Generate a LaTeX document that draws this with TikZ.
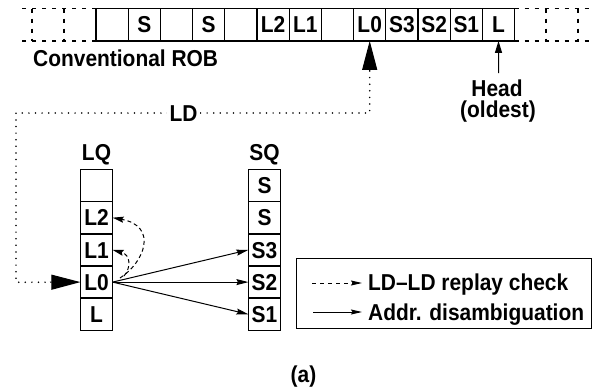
\documentclass[tikz,border=0pt]{standalone}
\usepackage{fontspec}
\newfontfamily\lbl{Liberation Sans}[FakeStretch=0.91]
\usetikzlibrary{arrows.meta}
\begin{document}
\begin{tikzpicture}[x=1pt,y=-1pt,
  every node/.style={font=\lbl\bfseries\fontsize{23}{23}\selectfont},
  cell/.style={draw, line width=1.3pt, minimum width=32.2pt, minimum height=32.4pt,
    inner sep=0pt, outer sep=0pt, text height=16.5pt, text depth=0pt},
  dcell/.style={line width=1.2pt, dash pattern=on 4.5pt off 5.5pt},
  dotline/.style={line width=1.7pt, line cap=round, dash pattern=on 0pt off 6.6pt},
  bigtip/.style={line width=1pt, -{Triangle[length=29pt,width=15pt]}},
  conn/.style={line width=1pt, -{Stealth[length=12pt,width=6pt,inset=1.5pt]}},
  dconn/.style={line width=1pt, dash pattern=on 4pt off 3pt, -{Stealth[length=11pt,width=6pt,inset=1.5pt]}},
  lab/.style={inner sep=0pt, text height=16.5pt, text depth=0pt}
]
\useasboundingbox (0,0) rectangle (594,391);

% --- Conventional ROB row ---
\foreach \i/\t in {1/,2/S,3/,4/S,5/,6/L2,7/L1,8/,9/L0,10/S3,11/S2,12/S1,13/L}
  \node[cell] (r\i) at ({96+(\i-0.5)*32.2},24.7) {\t};
% dashed continuation cells
\draw[dcell] (96,8.5) -- (16,8.5);
\draw[dcell] (96,41) -- (16,41);
\draw[dcell] (32,8.5) -- (32,41);
\draw[dcell] (64,8.5) -- (64,41);
\draw[dcell] (514.6,8.5) -- (594,8.5);
\draw[dcell] (514.6,41) -- (594,41);
\draw[dcell] (546,8.5) -- (546,41);
\draw[dcell] (578,8.5) -- (578,41);

\node[anchor=base west, inner sep=0pt] (rob) at (33,66) {Conventional ROB};

% Head pointer
\coordinate (hd) at (498.5,73);
\draw[line width=1pt, -{Triangle[length=12pt,width=7pt]}] (hd) -- (r13.south);
\node[anchor=base, inner sep=0pt] (head) at (497,96) {Head};
\node[anchor=base, inner sep=0pt] (old) at (498,117) {(oldest)};

% LD path
\coordinate (c0) at (369.7,71);
\coordinate (c1) at (369.7,113);
\coordinate (c2) at (16,113);
\coordinate (c3) at (16,282.2);
\coordinate (c4) at (50,282.2);
\draw[bigtip] (c0) -- (r9.south);
\draw[dotline] (c0) -- (c1) -- (c2) -- (c3) -- (c4);
\node[lab, fill=white, inner xsep=3pt] (ld) at (183.5,113) {LD};

% --- LQ and SQ ---
\node[anchor=base, inner sep=0pt] (lqlab) at (96.5,160) {LQ};
\node[anchor=base, inner sep=0pt] (sqlab) at (264.5,160) {SQ};
\foreach \i/\t in {1/,2/L2,3/L1,4/L0,5/L}
  \node[cell] (q\i) at (96.5,{169.4+(\i-0.5)*32.2}) {\t};
\foreach \i/\t in {1/S,2/S,3/S3,4/S2,5/S1}
  \node[cell] (s\i) at (264.5,{169.4+(\i-0.5)*32.2}) {\t};

\draw[bigtip] (c4) -- (q4.west);

% address disambiguation arrows
\draw[conn] (q4.east) -- (s3.west);
\draw[conn] (q4.east) -- (s4.west);
\draw[conn] (q4.east) -- (s5.west);

% LD-LD replay check arrows
\coordinate (d1) at (120,278);
\coordinate (d2) at (124,276);
\draw[dconn] (d1) .. controls (145,262) and (158,226) .. (q2.east);
\draw[dconn] (d2) .. controls (131,268) and (131,255) .. (q3.east);

% --- Legend ---
\node[draw, line width=1pt, minimum width=295pt, minimum height=70pt, inner sep=0pt] (leg) at (443.5,293) {};
\coordinate (la1) at (312,283);
\coordinate (la2) at (362,283);
\coordinate (lb1) at (313,312);
\coordinate (lb2) at (362,312);
\draw[line width=1pt, dash pattern=on 4pt off 4pt, -{Stealth[length=11pt,width=5pt,inset=1.5pt]}] (la1) -- (la2);
\draw[line width=1pt, -{Stealth[length=11pt,width=5pt,inset=1.5pt]}] (lb1) -- (lb2);
\node[anchor=base west, inner sep=0pt] (t1) at (368,290) {LD–LD replay check};
\node[anchor=base west, inner sep=0pt] (t2) at (368,320) {Addr. disambiguation};

\node[anchor=base, inner sep=0pt] (cap) at (303.5,382) {(a)};
\end{tikzpicture}
\end{document}
